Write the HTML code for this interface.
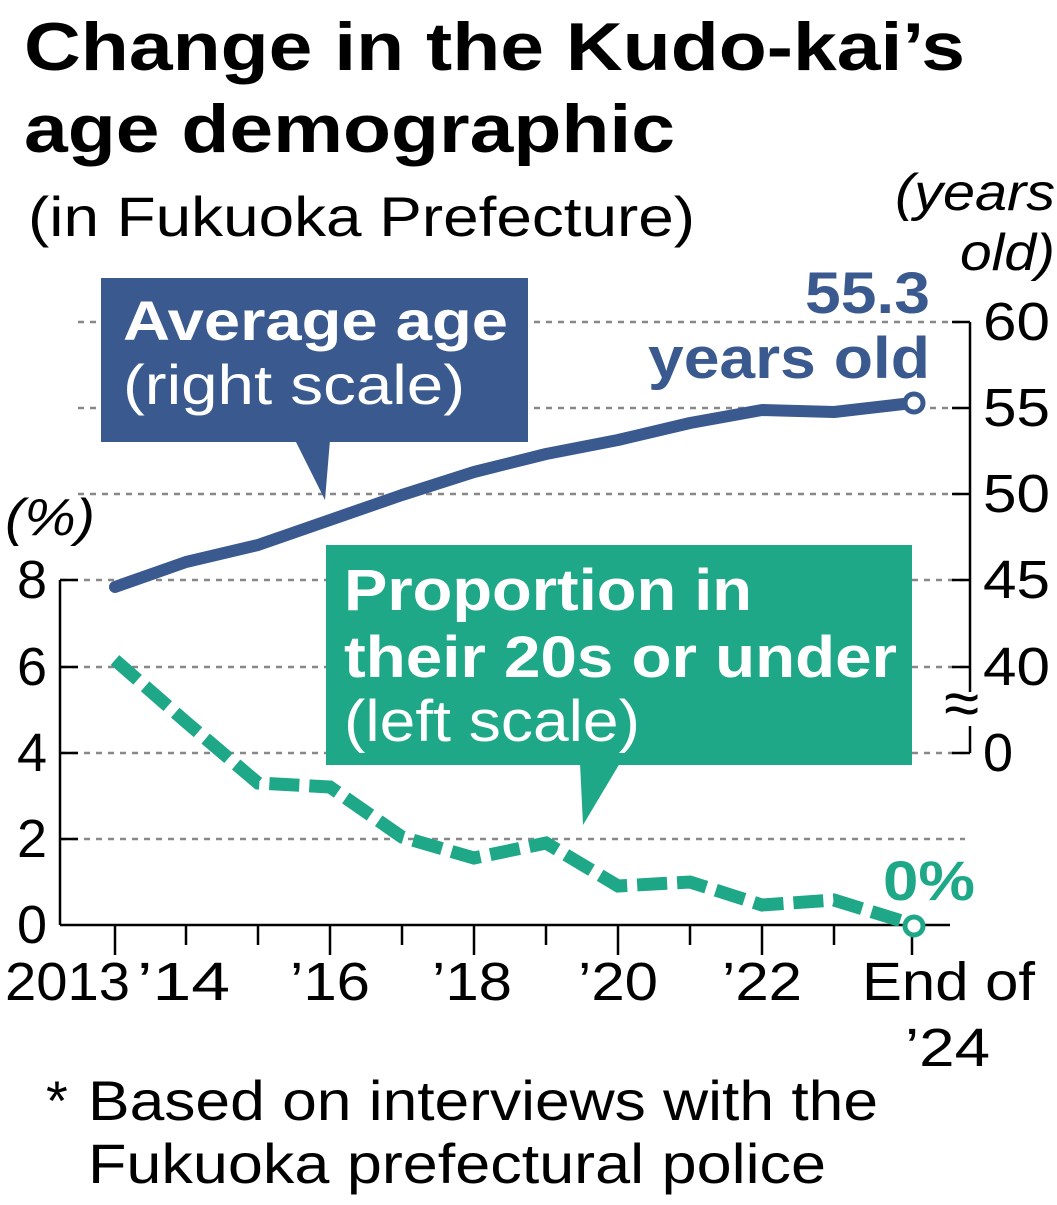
<!DOCTYPE html><html><head><style>body{margin:0;background:#fff;width:1057px;height:1200px;overflow:hidden;font-family:"Liberation Sans",sans-serif}</style></head><body>
<svg width="1057" height="1200" xmlns="http://www.w3.org/2000/svg" font-family="Liberation Sans, sans-serif">
<text x="24" y="70" font-size="68" font-weight="bold" textLength="941" lengthAdjust="spacingAndGlyphs">Change in the Kudo-kai’s</text>
<text x="24" y="152" font-size="68" font-weight="bold" textLength="651" lengthAdjust="spacingAndGlyphs">age demographic</text>
<text x="28" y="236" font-size="56" textLength="667" lengthAdjust="spacingAndGlyphs">(in Fukuoka Prefecture)</text>
<text x="895" y="210" font-size="52" font-style="italic" textLength="160" lengthAdjust="spacingAndGlyphs">(years</text>
<text x="960" y="270" font-size="52" font-style="italic" textLength="95" lengthAdjust="spacingAndGlyphs">old)</text>
<text x="5" y="535" font-size="52" font-style="italic" textLength="90" lengthAdjust="spacingAndGlyphs">(%)</text>
<g stroke="#888" stroke-width="2.5" stroke-dasharray="6,6">
<line x1="78" y1="322" x2="965" y2="322"/><line x1="78" y1="408" x2="965" y2="408"/><line x1="78" y1="494" x2="965" y2="494"/><line x1="60" y1="580" x2="965" y2="580"/><line x1="60" y1="667" x2="965" y2="667"/><line x1="60" y1="753" x2="965" y2="753"/><line x1="60" y1="839" x2="965" y2="839"/></g>
<g stroke="#000" stroke-width="2.5" fill="none">
<line x1="60" y1="580" x2="60" y2="925"/><line x1="60" y1="925" x2="950" y2="925"/>
<line x1="970" y1="322" x2="970" y2="692"/><line x1="970" y1="726" x2="970" y2="753"/>
<path d="M952 322H970M952 408H970M952 494H970M952 580H970M952 667H970M952 753H970M60 580H78M60 667H78M60 753H78M60 839H78"/>
<path d="M115 925V955M186 925V945M258 925V945M330 925V955M402 925V945M474 925V955M546 925V945M618 925V955M690 925V945M762 925V955M834 925V945M912 925V955"/>
</g>
<text x="944" y="725" font-size="64">≈</text>
<g font-size="54" text-anchor="end"><text x="47" y="598">8</text><text x="47" y="685">6</text><text x="47" y="771">4</text><text x="47" y="857">2</text><text x="47" y="943">0</text></g>
<g font-size="54"><text x="983" y="340" textLength="67" lengthAdjust="spacingAndGlyphs">60</text><text x="983" y="426" textLength="67" lengthAdjust="spacingAndGlyphs">55</text><text x="983" y="512" textLength="67" lengthAdjust="spacingAndGlyphs">50</text><text x="983" y="598" textLength="67" lengthAdjust="spacingAndGlyphs">45</text><text x="983" y="685" textLength="67" lengthAdjust="spacingAndGlyphs">40</text><text x="983" y="771">0</text></g>
<g font-size="54"><text x="5" y="1000" textLength="125" lengthAdjust="spacingAndGlyphs">2013</text><text x="137" y="1000" textLength="93" lengthAdjust="spacingAndGlyphs">’14</text><text x="290" y="1000" textLength="80" lengthAdjust="spacingAndGlyphs">’16</text><text x="432" y="1000" textLength="80" lengthAdjust="spacingAndGlyphs">’18</text><text x="578" y="1000" textLength="80" lengthAdjust="spacingAndGlyphs">’20</text><text x="722" y="1000" textLength="80" lengthAdjust="spacingAndGlyphs">’22</text><text x="862" y="1000" textLength="173" lengthAdjust="spacingAndGlyphs">End of</text><text x="905" y="1066" textLength="85" lengthAdjust="spacingAndGlyphs">’24</text></g>
<rect x="101" y="278" width="427" height="164" fill="#3a5a8f"/><path d="M295 440L325 500L330 440Z" fill="#3a5a8f"/>
<text x="123" y="340" font-size="56" font-weight="bold" fill="#fff" textLength="385" lengthAdjust="spacingAndGlyphs">Average age</text>
<text x="123" y="404" font-size="56" fill="#fff" textLength="342" lengthAdjust="spacingAndGlyphs">(right scale)</text>
<polyline points="115,587 186,562 258,545 330,520 402,495 474,472 546,454 618,440 690,423 762,410 834,412 912,403" fill="none" stroke="#3a5a8f" stroke-width="12" stroke-linejoin="round" stroke-linecap="round"/>
<circle cx="914" cy="403" r="9" fill="#fff" stroke="#3a5a8f" stroke-width="5"/>
<text x="805" y="313" font-size="58" font-weight="bold" fill="#3a5a8f" textLength="125" lengthAdjust="spacingAndGlyphs">55.3</text>
<text x="648" y="378" font-size="58" font-weight="bold" fill="#3a5a8f" textLength="282" lengthAdjust="spacingAndGlyphs">years old</text>
<rect x="326" y="545" width="586" height="220" fill="#1ea887"/><path d="M580 763L583 825L620 763Z" fill="#1ea887"/>
<text x="344" y="610" font-size="58" font-weight="bold" fill="#fff" textLength="408" lengthAdjust="spacingAndGlyphs">Proportion in</text>
<text x="344" y="677" font-size="58" font-weight="bold" fill="#fff" textLength="553" lengthAdjust="spacingAndGlyphs">their 20s or under</text>
<text x="344" y="741" font-size="58" fill="#fff" textLength="296" lengthAdjust="spacingAndGlyphs">(left scale)</text>
<polyline points="115,660 186,722 258,783 330,787 402,837 474,858 546,843 618,886 690,882 762,905 834,900 905,922" fill="none" stroke="#1ea887" stroke-width="13" stroke-dasharray="30,10"/>
<circle cx="914" cy="926" r="9" fill="#fff" stroke="#1ea887" stroke-width="5"/>
<text x="883" y="900" font-size="56" font-weight="bold" fill="#1ea887" textLength="92" lengthAdjust="spacingAndGlyphs">0%</text>
<text x="46" y="1120" font-size="56">*</text>
<text x="88" y="1120" font-size="56" textLength="790" lengthAdjust="spacingAndGlyphs">Based on interviews with the</text>
<text x="88" y="1183" font-size="56" textLength="738" lengthAdjust="spacingAndGlyphs">Fukuoka prefectural police</text>
</svg></body></html>
